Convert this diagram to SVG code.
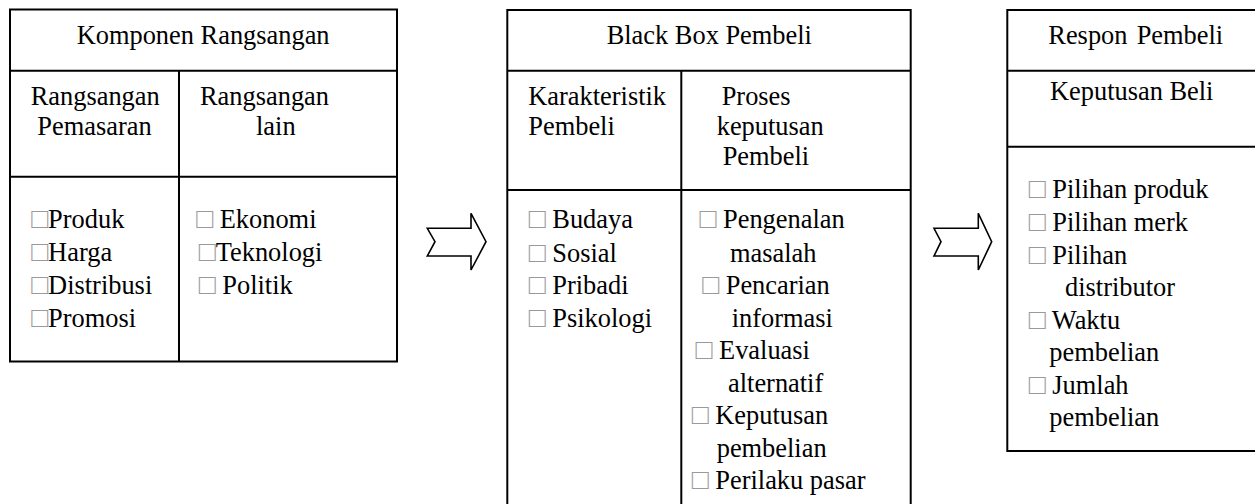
<svg xmlns="http://www.w3.org/2000/svg" width="1255" height="504" viewBox="0 0 1255 504">
<style>
.t{font-family:'Liberation Serif',Tinos,'Times New Roman',Times,serif;font-size:26.4px;fill:#000}
.b{fill:#9a9a9a;font-size:28px}
.ln{stroke:#000;stroke-width:2;fill:none}
.box{stroke:#000;stroke-width:2;fill:#fff}
.arr{stroke:#000;stroke-width:1.6;fill:#fff;stroke-linejoin:miter}
</style>
<rect width="1255" height="504" fill="#fff"/>
<g id="komponen-rangsangan">
<rect class="box" x="10" y="9.5" width="387" height="352"/>
<line class="ln" x1="10" y1="70.7" x2="397" y2="70.7"/>
<line class="ln" x1="10" y1="176.7" x2="397" y2="176.7"/>
<line class="ln" x1="179" y1="70.7" x2="179" y2="361.5"/>
<text class="t" x="76.7" y="44">Komponen Rangsangan</text>
<text class="t" x="30.7" y="105">Rangsangan</text>
<text class="t" x="37.3" y="135">Pemasaran</text>
<text class="t" x="200" y="105">Rangsangan</text>
<text class="t" x="256" y="135">lain</text>
<text class="t" x="31.2" y="228"><tspan class="b">□</tspan>Produk</text>
<text class="t" x="31.2" y="261"><tspan class="b">□</tspan>Harga</text>
<text class="t" x="31.2" y="294"><tspan class="b">□</tspan>Distribusi</text>
<text class="t" x="31.2" y="327"><tspan class="b">□</tspan>Promosi</text>
<text class="t" x="196.2" y="228"><tspan class="b">□</tspan> Ekonomi</text>
<text class="t" x="198.8" y="261"><tspan class="b">□</tspan>Teknologi</text>
<text class="t" x="198.8" y="294"><tspan class="b">□</tspan> Politik</text>
</g>
<g id="black-box-pembeli">
<rect class="box" x="507.3" y="10" width="403.4" height="510"/>
<line class="ln" x1="507.3" y1="70.7" x2="910.7" y2="70.7"/>
<line class="ln" x1="507.3" y1="190" x2="910.7" y2="190"/>
<line class="ln" x1="681.3" y1="70.7" x2="681.3" y2="520"/>
<text class="t" x="606.7" y="44">Black Box Pembeli</text>
<text class="t" x="528.3" y="105">Karakteristik</text>
<text class="t" x="528.3" y="135">Pembeli</text>
<text class="t" x="721.7" y="105">Proses</text>
<text class="t" x="716.7" y="135">keputusan</text>
<text class="t" x="722.7" y="165">Pembeli</text>
<text class="t" x="528.8" y="228.3"><tspan class="b">□</tspan> Budaya</text>
<text class="t" x="528.8" y="261.5"><tspan class="b">□</tspan> Sosial</text>
<text class="t" x="528.8" y="294"><tspan class="b">□</tspan> Pribadi</text>
<text class="t" x="528.8" y="326.7"><tspan class="b">□</tspan> Psikologi</text>
<text class="t" x="699.5" y="228.3"><tspan class="b">□</tspan> Pengenalan</text>
<text class="t" x="730" y="261.5">masalah</text>
<text class="t" x="702.2" y="294"><tspan class="b">□</tspan> Pencarian</text>
<text class="t" x="731.7" y="326.7">informasi</text>
<text class="t" x="695.5" y="358.5"><tspan class="b">□</tspan> Evaluasi</text>
<text class="t" x="728" y="391.5">alternatif</text>
<text class="t" x="691.8" y="424.3"><tspan class="b">□</tspan> Keputusan</text>
<text class="t" x="716.7" y="456.7">pembelian</text>
<text class="t" x="691.8" y="488.5"><tspan class="b">□</tspan> Perilaku pasar</text>
</g>
<g id="respon-pembeli">
<rect class="box" x="1007.3" y="10" width="260" height="441"/>
<line class="ln" x1="1007.3" y1="70.7" x2="1260" y2="70.7"/>
<line class="ln" x1="1007.3" y1="146.7" x2="1260" y2="146.7"/>
<text class="t" x="1048.3" y="44">Respon <tspan x="1136.7">Pembeli</tspan></text>
<text class="t" x="1050" y="100">Keputusan Beli</text>
<text class="t" x="1028.8" y="198.3"><tspan class="b">□</tspan> Pilihan produk</text>
<text class="t" x="1028.8" y="231"><tspan class="b">□</tspan> Pilihan merk</text>
<text class="t" x="1028.8" y="263.5"><tspan class="b">□</tspan> Pilihan</text>
<text class="t" x="1065" y="296">distributor</text>
<text class="t" x="1028.8" y="328.5"><tspan class="b">□</tspan> Waktu</text>
<text class="t" x="1049.3" y="361">pembelian</text>
<text class="t" x="1028.8" y="393.5"><tspan class="b">□</tspan> Jumlah</text>
<text class="t" x="1049.3" y="426">pembelian</text>
</g>
<g id="connectors">
<polygon id="arrow-1" class="arr" points="427.3,228.3 471,228.3 471,213.3 486,241.7 471,270 471,256 427.3,256 435,241.7"/>
<polygon id="arrow-2" class="arr" points="934,228.3 978.3,228.3 978.3,213.3 991.7,241.7 978.3,270 978.3,256 934,256 941,241.7"/>
</g>
</svg>
